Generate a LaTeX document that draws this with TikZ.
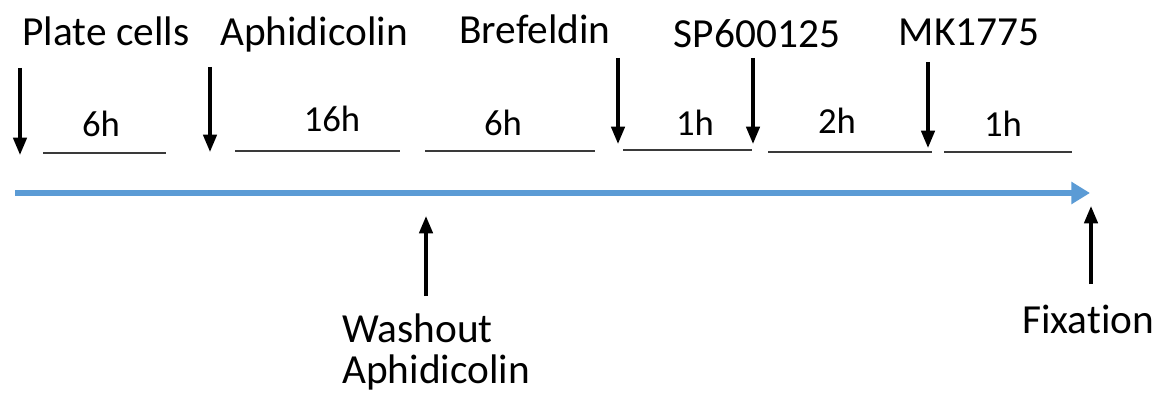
\documentclass[tikz,border=0pt]{standalone}
\usepackage{fontspec}
\setmainfont{Carlito}[Ligatures=NoCommon]
\usetikzlibrary{arrows.meta}
\definecolor{axisblue}{HTML}{5B9BD5}
\definecolor{seggray}{HTML}{3A3A3A}
\tikzset{
  px/.style={x=0.75pt,y=-0.75pt},
  event/.style={font=\fontsize{31}{34}\selectfont, anchor=base, inner sep=0pt},
  dur/.style={font=\fontsize{27.5}{30}\selectfont, anchor=base, inner sep=0pt},
  below label/.style={font=\fontsize{31}{34}\selectfont, anchor=base west, inner sep=0pt, align=left},
  mark arrow/.style={line width=2.6pt, -{Triangle[length=13pt,width=10pt]}},
  segment/.style={line width=1.1pt, draw=seggray},
  timeline/.style={line width=3.8pt, draw=axisblue, -{Triangle[length=14pt,width=16pt]}}
}
\begin{document}
\begin{tikzpicture}[px]
\useasboundingbox (0,0) rectangle (1160,403);

% main time axis
\coordinate (t0) at (15,193);
\coordinate (t1) at (1090,193);
\draw[timeline] (t0) -- (t1);

% treatment labels
\node[event] (plate) at (106,46) {Plate cells};
\node[event] (aph)   at (314,46) {Aphidicolin};
\node[event] (bref)  at (535,44) {Brefeldin};
\node[event] (sp)    at (757,48) {SP600125};
\node[event] (mk)    at (969,46) {MK1775};

% addition arrows
\coordinate (a1s) at (20,68);  \coordinate (a1e) at (20,155);
\coordinate (a2s) at (210,67); \coordinate (a2e) at (210,152);
\coordinate (a3s) at (618,58); \coordinate (a3e) at (618,144);
\coordinate (a4s) at (753,58); \coordinate (a4e) at (753,144);
\coordinate (a5s) at (928,62); \coordinate (a5e) at (928,148);
\draw[mark arrow] (a1s) -- (a1e);
\draw[mark arrow] (a2s) -- (a2e);
\draw[mark arrow] (a3s) -- (a3e);
\draw[mark arrow] (a4s) -- (a4e);
\draw[mark arrow] (a5s) -- (a5e);

% interval bars
\coordinate (s1a) at (43,153);  \coordinate (s1b) at (166,153);
\coordinate (s2a) at (235,151); \coordinate (s2b) at (400,151);
\coordinate (s3a) at (425,151); \coordinate (s3b) at (595,151);
\coordinate (s4a) at (623,150); \coordinate (s4b) at (752,150);
\coordinate (s5a) at (768,152); \coordinate (s5b) at (932,152);
\coordinate (s6a) at (944,152); \coordinate (s6b) at (1072,152);
\draw[segment] (s1a) -- (s1b);
\draw[segment] (s2a) -- (s2b);
\draw[segment] (s3a) -- (s3b);
\draw[segment] (s4a) -- (s4b);
\draw[segment] (s5a) -- (s5b);
\draw[segment] (s6a) -- (s6b);

% interval durations
\node[dur] (d1) at (101,137)  {6h};
\node[dur] (d2) at (332,132)  {16h};
\node[dur] (d3) at (503,135)  {6h};
\node[dur] (d4) at (695,135)  {1h};
\node[dur] (d5) at (837,133)  {2h};
\node[dur] (d6) at (1003,137) {1h};

% events below the axis
\coordinate (w0) at (426,296); \coordinate (w1) at (426,216);
\coordinate (f0) at (1091,284); \coordinate (f1) at (1091,206);
\draw[mark arrow] (w0) -- (w1);
\draw[mark arrow] (f0) -- (f1);
\node[below label] (wash) at (342,342) {Washout};
\node[below label] (wash2) at (342,383) {Aphidicolin};
\node[below label] (fix) at (1022,333) {Fixation};
\end{tikzpicture}
\end{document}
